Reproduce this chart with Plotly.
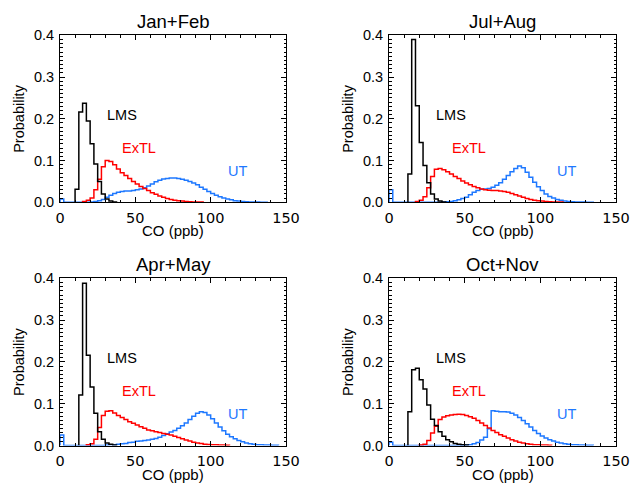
import plotly.graph_objects as go

# ---------------- data ----------------
bin_width = 2.5  # ppb
panel_titles = ["Jan+Feb", "Jul+Aug", "Apr+May", "Oct+Nov"]
x_ticks = [0, 50, 100, 150]
y_ticks = [0.0, 0.1, 0.2, 0.3, 0.4]

# each series: left edge of first bin (ppb) and probabilities of consecutive bins
jan_lms_start = 10.0
jan_lms = [0.031, 0.216, 0.237, 0.195, 0.14, 0.092, 0.05, 0.02, 0.008, 0.003, 0.001]
jan_extl_start = 15.0
jan_extl = [0.002, 0.005, 0.01, 0.03, 0.055, 0.085, 0.1, 0.098, 0.09, 0.08, 0.071, 0.064,
            0.057, 0.05, 0.044, 0.038, 0.033, 0.028, 0.023, 0.019, 0.015, 0.012, 0.009,
            0.007, 0.005, 0.004, 0.003, 0.002, 0.0015, 0.001, 0.001, 0.0005]
jan_ut_start = 0.0
jan_ut = [0.008, 0, 0, 0, 0, 0, 0, 0, 0.001, 0.002, 0.004, 0.007, 0.012, 0.017, 0.021,
          0.024, 0.026, 0.027, 0.027, 0.028, 0.03, 0.032, 0.035, 0.039, 0.044, 0.049,
          0.053, 0.056, 0.057, 0.058, 0.058, 0.057, 0.055, 0.053, 0.05, 0.046, 0.042,
          0.036, 0.031, 0.026, 0.021, 0.017, 0.013, 0.01, 0.008, 0.006, 0.004, 0.003,
          0.002, 0.0015, 0.001, 0.0008, 0.0005, 0.0004, 0.0003]

jul_lms_start = 12.5
jul_lms = [0.068, 0.39, 0.231, 0.143, 0.088, 0.047, 0.02, 0.008, 0.003, 0.001]
jul_extl_start = 17.5
jul_extl = [0.002, 0.005, 0.013, 0.035, 0.062, 0.079, 0.081, 0.078, 0.073, 0.068, 0.062,
            0.057, 0.051, 0.046, 0.042, 0.038, 0.035, 0.032, 0.03, 0.029, 0.028, 0.028,
            0.027, 0.026, 0.024, 0.021, 0.018, 0.015, 0.012, 0.009, 0.007, 0.005, 0.004,
            0.003, 0.002, 0.0015, 0.001, 0.001, 0.0005]
jul_ut_start = 0.0
jul_ut = [0.03, 0, 0, 0, 0, 0, 0, 0, 0, 0, 0, 0, 0, 0, 0.001, 0.0015, 0.002, 0.004, 0.006,
          0.009, 0.012, 0.018, 0.024, 0.028, 0.031, 0.032, 0.033, 0.036, 0.041, 0.047,
          0.055, 0.064, 0.073, 0.081, 0.087, 0.083, 0.072, 0.06, 0.048, 0.037, 0.028,
          0.02, 0.014, 0.01, 0.007, 0.005, 0.003, 0.002, 0.0015, 0.001, 0.001, 0.0005,
          0.0004, 0.0003]

apr_lms_start = 12.5
apr_lms = [0.121, 0.388, 0.216, 0.14, 0.077, 0.033, 0.015, 0.006, 0.003, 0.001]
apr_extl_start = 17.5
apr_extl = [0.002, 0.004, 0.015, 0.043, 0.072, 0.082, 0.083, 0.078, 0.072, 0.067, 0.062,
            0.057, 0.053, 0.049, 0.045, 0.041, 0.037, 0.035, 0.033, 0.031, 0.029, 0.027,
            0.025, 0.022, 0.019, 0.016, 0.013, 0.011, 0.008, 0.006, 0.005, 0.003, 0.0025,
            0.002, 0.0015, 0.001, 0.001, 0.0005]
apr_ut_start = 0.0
apr_ut = [0.025, 0, 0, 0, 0, 0, 0, 0, 0, 0, 0, 0, 0.001, 0.0015, 0.002, 0.003, 0.004,
          0.005, 0.007, 0.008, 0.01, 0.011, 0.012, 0.013, 0.015, 0.017, 0.02, 0.024, 0.028,
          0.032, 0.036, 0.041, 0.047, 0.054, 0.062, 0.07, 0.077, 0.081, 0.079, 0.073,
          0.064, 0.054, 0.044, 0.035, 0.027, 0.021, 0.016, 0.012, 0.009, 0.006, 0.004,
          0.003, 0.002, 0.0015, 0.001, 0.001, 0.0005, 0.0004]

oct_lms_start = 12.5
oct_lms = [0.081, 0.181, 0.185, 0.157, 0.135, 0.097, 0.063, 0.048, 0.033, 0.022, 0.014,
           0.009, 0.005, 0.003, 0.002, 0.001]
oct_extl_start = 20.0
oct_extl = [0.001, 0.003, 0.012, 0.03, 0.046, 0.062, 0.068, 0.071, 0.073, 0.074, 0.075,
            0.074, 0.072, 0.069, 0.065, 0.06, 0.054, 0.048, 0.042, 0.036, 0.031, 0.026,
            0.022, 0.018, 0.014, 0.011, 0.008, 0.006, 0.004, 0.003, 0.002, 0.0015, 0.001,
            0.001, 0.0005]
oct_ut_start = 0.0
oct_ut = [0.008, 0, 0, 0, 0, 0, 0, 0, 0, 0, 0, 0, 0, 0, 0, 0, 0, 0, 0, 0, 0.001, 0.002,
          0.004, 0.007, 0.013, 0.02, 0.04, 0.083, 0.082, 0.081, 0.081, 0.08, 0.077, 0.073,
          0.067, 0.06, 0.052, 0.044, 0.036, 0.029, 0.023, 0.018, 0.014, 0.011, 0.008,
          0.006, 0.004, 0.003, 0.002, 0.0015, 0.001, 0.001, 0.0005, 0.0004]

series_names = ["LMS", "ExTL", "UT"]
series_colors = ["#000000", "#FF0000", "#1E78FF"]
label_x = [30, 40, 110]
label_y = [0.21, 0.13, 0.075]

panels = [
    [(jan_lms_start, jan_lms), (jan_extl_start, jan_extl), (jan_ut_start, jan_ut)],
    [(jul_lms_start, jul_lms), (jul_extl_start, jul_extl), (jul_ut_start, jul_ut)],
    [(apr_lms_start, apr_lms), (apr_extl_start, apr_extl), (apr_ut_start, apr_ut)],
    [(oct_lms_start, oct_lms), (oct_extl_start, oct_extl), (oct_ut_start, oct_ut)],
]

# ---------------- layout geometry (page pixels, 630x483) ----------------
W, H = 630, 483
FONT = "Liberation Sans, Arial, Helvetica, sans-serif"
XFONT = "DejaVu Sans, Liberation Sans, sans-serif"
x_px = [(60, 286), (389, 616), (60, 286), (389, 616)]
y_px = [(35.3, 202.3), (35.3, 202.3), (278.3, 445.5), (278.3, 445.5)]


def px_x(X):
    return X / W


def px_y(Y):
    return 1 - Y / H


def step_xy(start, vals):
    xs = [start]
    ys = [0.0]
    for i, v in enumerate(vals):
        xs.append(start + i * bin_width)
        ys.append(v)
    xs.append(start + len(vals) * bin_width)
    ys.append(vals[-1])
    xs.append(start + len(vals) * bin_width)
    ys.append(0.0)
    return xs, ys


fig = go.Figure()
annotations = []
for p in range(4):
    ax = "" if p == 0 else str(p + 1)
    xa, ya = "x" + ax, "y" + ax
    # draw UT first, then ExTL, then LMS on top
    for s in [2, 1, 0]:
        start, vals = panels[p][s]
        xs, ys = step_xy(start, vals)
        fig.add_trace(go.Scatter(x=xs, y=ys, mode="lines", line_shape="hv",
                                 line=dict(color=series_colors[s], width=1.5),
                                 xaxis=xa, yaxis=ya, showlegend=False,
                                 hoverinfo="skip"))
        annotations.append(dict(x=label_x[s], y=label_y[s], xref=xa, yref=ya,
                                text=series_names[s], showarrow=False,
                                xanchor="left", yanchor="middle",
                                font=dict(family=FONT, size=14.5, color=series_colors[s])))
    x0, x1 = x_px[p]
    y0, y1 = y_px[p]
    dom_x = [px_x(x0), px_x(x1)]
    dom_y = [px_y(y1), px_y(y0)]
    axis_common = dict(showline=True, linecolor="black", linewidth=1, mirror="allticks",
                       ticks="inside", ticklen=5, tickwidth=1, tickcolor="black",
                       showgrid=False, zeroline=False, automargin=False,
                       ticklabeloverflow="allow")
    fig.update_layout(**{
        "xaxis" + ax: dict(domain=dom_x, range=[0, 150], tickvals=x_ticks,
                           anchor=ya, ticklabelstandoff=2,
                           tickfont=dict(family=XFONT, size=14.5, color="black"),
                           minor=dict(dtick=10, ticks="inside", ticklen=2.5,
                                      tickcolor="black", showgrid=False),
                           **axis_common),
        "yaxis" + ax: dict(domain=dom_y, range=[0, 0.4], tickvals=y_ticks,
                           tickformat=".1f", anchor=xa, ticklabelstandoff=2,
                           tickfont=dict(family=FONT, size=14.5, color="black"),
                           minor=dict(dtick=0.01, ticks="inside", ticklen=2.5,
                                      tickcolor="black", showgrid=False),
                           **axis_common),
    })
    cx = px_x((x0 + x1) / 2)
    # panel title
    annotations.append(dict(x=cx, y=px_y(y0 - 13.5), xref="paper", yref="paper",
                            text=panel_titles[p], showarrow=False,
                            xanchor="center", yanchor="middle",
                            font=dict(family=FONT, size=18.5, color="black")))
    # x axis title
    annotations.append(dict(x=cx, y=px_y(y1 + 28.5), xref="paper", yref="paper",
                            text="CO (ppb)", showarrow=False,
                            xanchor="center", yanchor="middle",
                            font=dict(family=FONT, size=15, color="black")))
    # y axis title
    annotations.append(dict(x=px_x(x0 - 41), y=px_y((y0 + y1) / 2), xref="paper",
                            yref="paper", text="Probability", showarrow=False,
                            textangle=-90, xanchor="center", yanchor="middle",
                            font=dict(family=FONT, size=14.5, color="black")))

fig.update_layout(width=W, height=H, margin=dict(l=0, r=0, t=0, b=0, autoexpand=False),
                  paper_bgcolor="white", plot_bgcolor="white",
                  annotations=annotations, showlegend=False)

fig.write_html("out.html", config={"displayModeBar": False, "staticPlot": True},
               post_script="document.body.style.margin='0';"
                           "document.body.style.padding='0';"
                           "document.body.style.overflow='hidden';")
